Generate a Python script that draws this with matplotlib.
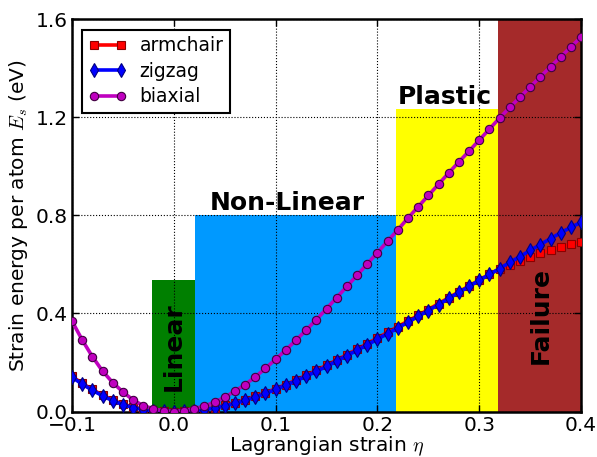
import numpy as np
import matplotlib
matplotlib.use('Agg')
import matplotlib.pyplot as plt

plt.rcParams['mathtext.fontset'] = 'cm'
plt.rcParams['font.family'] = 'DejaVu Sans'

# Lagrangian strain, -0.10 .. 0.40 in steps of 0.01
eta = np.round(np.arange(-0.10, 0.401, 0.01), 2)

armchair = [0.143, 0.115, 0.090, 0.067, 0.047, 0.030, 0.018, 0.009, 0.004, 0.001,
            0.000, 0.001, 0.004, 0.009, 0.016, 0.025, 0.036, 0.048, 0.062, 0.077,
            0.093, 0.110, 0.128, 0.148, 0.168, 0.189, 0.210, 0.232, 0.254, 0.277,
            0.300, 0.323, 0.346, 0.369, 0.392, 0.416, 0.440, 0.464, 0.488, 0.512,
            0.536, 0.560, 0.582, 0.597, 0.614, 0.630, 0.646, 0.659, 0.671, 0.682,
            0.692]

zigzag = [0.140, 0.112, 0.087, 0.064, 0.044, 0.028, 0.016, 0.008, 0.003, 0.001,
          0.000, 0.001, 0.003, 0.008, 0.014, 0.023, 0.033, 0.045, 0.059, 0.074,
          0.090, 0.107, 0.125, 0.144, 0.164, 0.184, 0.206, 0.228, 0.250, 0.272,
          0.295, 0.318, 0.341, 0.364, 0.388, 0.412, 0.436, 0.461, 0.486, 0.510,
          0.535, 0.559, 0.583, 0.608, 0.632, 0.657, 0.681, 0.705, 0.729, 0.751,
          0.772]

biaxial = [0.369, 0.292, 0.224, 0.165, 0.118, 0.080, 0.047, 0.024, 0.011, 0.003,
           0.000, 0.003, 0.012, 0.022, 0.038, 0.058, 0.083, 0.110, 0.141, 0.176,
           0.213, 0.251, 0.291, 0.332, 0.375, 0.419, 0.465, 0.510, 0.556, 0.602,
           0.648, 0.695, 0.741, 0.789, 0.835, 0.881, 0.927, 0.973, 1.018, 1.062,
           1.107, 1.152, 1.197, 1.240, 1.282, 1.324, 1.365, 1.406, 1.446, 1.487,
           1.527]

# deformation regimes
region_names = ['Linear', 'Non-Linear', 'Plastic', 'Failure']
region_start = [-0.021, 0.021, 0.218, 0.318]
region_end = [0.021, 0.218, 0.318, 0.40]
region_top = [0.537, 0.80, 1.232, 1.60]
region_colors = ['#007f00', '#0099ff', '#ffff00', '#a52a2a']

fig = plt.figure(figsize=(5.97, 4.57), dpi=100)
ax = fig.add_axes([0.1206, 0.0995, 0.8527, 0.8585])

widths = [e - s for s, e in zip(region_start, region_end)]
ax.bar(region_start, region_top, width=widths, align='edge',
       color=region_colors, linewidth=0, zorder=1)

# region labels
ax.text(0.0, 0.265, region_names[0], rotation=90, ha='center', va='center',
        fontsize=18, fontweight='bold')
ax.text((region_start[1] + region_end[1]) / 2 - 0.008, 0.80, region_names[1],
        ha='center', va='bottom', fontsize=18, fontweight='bold')
ax.text((region_start[2] + region_end[2]) / 2 - 0.002, 1.232, region_names[2],
        ha='center', va='bottom', fontsize=18, fontweight='bold')
ax.text(0.36, 0.39, region_names[3], rotation=90, ha='center', va='center',
        fontsize=18, fontweight='bold')

ax.plot(eta, armchair, '-s', color='#ff0000', lw=2.6, ms=5.8,
        mfc='#ff0000', mec='#8b0000', mew=0.8, label='armchair', zorder=3)
ax.plot(eta, zigzag, '-d', color='#0000ff', lw=2.6, ms=7,
        mfc='#0000ff', mec='#000080', mew=0.8, label='zigzag', zorder=4)
ax.plot(eta, biaxial, '-o', color='#bf00bf', lw=2.6, ms=6,
        mfc='#bf00bf', mec='#400040', mew=0.8, label='biaxial', zorder=5)

ax.set_xlim(-0.1, 0.4)
ax.set_ylim(0.0, 1.6)
ax.set_xticks([-0.1, 0.0, 0.1, 0.2, 0.3, 0.4])
ax.set_yticks([0.0, 0.4, 0.8, 1.2, 1.6])
ax.set_axisbelow(False)
ax.grid(True, linestyle=':', color='black', linewidth=0.8)
ax.tick_params(direction='in', top=True, right=True, length=5, width=1,
               labelsize=14.5, pad=3)
for s in ax.spines.values():
    s.set_linewidth(1.8)

ax.set_xlabel(r'Lagrangian strain $\eta$', fontsize=14.5, labelpad=0)
ax.set_ylabel(r'Strain energy per atom $E_s$ (eV)', fontsize=14.5, labelpad=4)

leg = ax.legend(loc='upper left', fontsize=13.5, fancybox=False,
                framealpha=1, edgecolor='black', handlelength=2.0,
                numpoints=2, borderaxespad=0.55, labelspacing=0.35,
                borderpad=0.35, handletextpad=0.7)
leg.get_frame().set_linewidth(1.5)

fig.savefig('out.png', dpi=100)
